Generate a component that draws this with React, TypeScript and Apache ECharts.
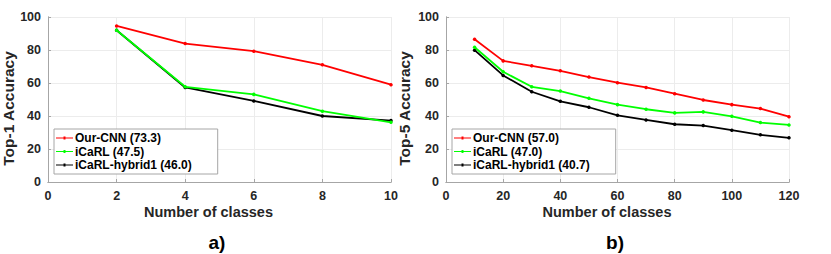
import React, { useEffect, useRef } from "react";
import * as echarts from "echarts";

const xA = [2, 4, 6, 8, 10];
const ourCnnA = [94.6, 83.9, 79.3, 71.0, 59.0];
const icarlA = [92.0, 57.7, 53.1, 42.9, 36.2];
const hybridA = [92.0, 57.3, 49.1, 40.0, 37.2];

const xB = [10, 20, 30, 40, 50, 60, 70, 80, 90, 100, 110, 120];
const ourCnnB = [86.5, 73.4, 70.4, 67.4, 63.6, 60.2, 57.3, 53.5, 49.7, 46.9, 44.5, 39.6];
const icarlB = [81.7, 66.8, 57.7, 55.1, 50.7, 46.9, 44.1, 41.9, 42.5, 39.8, 36.0, 34.6];
const hybridB = [79.9, 64.6, 54.7, 48.9, 45.3, 40.4, 37.6, 35.0, 34.2, 31.4, 28.6, 26.8];

const namesA = ["Our-CNN (73.3)", "iCaRL (47.5)", "iCaRL-hybrid1 (46.0)"];
const namesB = ["Our-CNN (57.0)", "iCaRL (47.0)", "iCaRL-hybrid1 (40.7)"];
const colors = ["#ff0000", "#00ff00", "#000000"];

const FONT = "Liberation Sans";
const TXT = "#262626";

const zip = (xs: number[], ys: number[]) => xs.map((x, i) => [x, ys[i]]);

export default function App() {
  const ref = useRef<HTMLDivElement>(null);
  useEffect(() => {
    document.body.style.margin = "0";
    const chart = echarts.init(ref.current!, null, { renderer: "svg" });
    const axisCommon = {
      axisLine: { show: true, onZero: false, lineStyle: { color: "#a6a6a6", width: 1 } },
      axisTick: { show: true, inside: true, length: 3, lineStyle: { color: "#a6a6a6" } },
      splitLine: { show: true, lineStyle: { color: "#ececec", width: 1 } },
      axisLabel: { color: TXT, fontFamily: FONT, fontWeight: "bold", fontSize: 12.5, margin: 7 },
    };
    const mkX = (gi: number, max: number, interval: number) => ({
      ...axisCommon,
      type: "value",
      gridIndex: gi,
      min: 0,
      max,
      interval,
    });
    const mkXTop = (gi: number, max: number, interval: number) => ({
      type: "value",
      gridIndex: gi,
      min: 0,
      max,
      interval,
      position: "top",
      axisLine: { show: true, lineStyle: { color: "#a6a6a6", width: 1 } },
      axisTick: { show: false },
      axisLabel: { show: false },
      splitLine: { show: false },
    });
    const mkY = (gi: number) => ({
      ...axisCommon,
      type: "value",
      gridIndex: gi,
      min: 0,
      max: 100,
      interval: 20,
    });
    const mkYRight = (gi: number) => ({
      type: "value",
      gridIndex: gi,
      min: 0,
      max: 100,
      interval: 20,
      position: "right",
      axisLine: { show: true, lineStyle: { color: "#a6a6a6", width: 1 } },
      axisTick: { show: false },
      axisLabel: { show: false },
      splitLine: { show: false },
    });
    const mkSeries = (names: string[], xs: number[], data: number[][], xi: number, yi: number) =>
      names.map((n, i) => ({
        type: "line",
        name: n,
        xAxisIndex: xi,
        yAxisIndex: yi,
        data: zip(xs, data[i]),
        symbol: "circle",
        symbolSize: 3.5,
        lineStyle: { color: colors[i], width: 1.8 },
        itemStyle: { color: colors[i] },
        z: 10 - i,
      }));
    const legendCommon = {
      orient: "vertical",
      top: 129,
      itemWidth: 17,
      itemHeight: 13,
      itemGap: 1.5,
      padding: [3, 26, 3, 2],
      borderColor: "#a6a6a6",
      borderWidth: 1,
      backgroundColor: "#fff",
      textStyle: { color: "#000", fontFamily: FONT, fontWeight: "bold", fontSize: 12, padding: [0, 0, 0, -3] },
      icon: "path://M0,5 L17,5 L17,6.2 L0,6.2 Z M7.5,4 L9.5,4 L9.5,7.2 L7.5,7.2 Z",
    };
    const titleFont = `bold 14.5px "${FONT}"`;
    const yTitleFont = `bold 15.5px "${FONT}"`;
    chart.setOption({
      animation: false,
      grid: [
        { left: 48, top: 17, width: 343, height: 165 },
        { left: 446, top: 17, width: 343, height: 165 },
      ],
      xAxis: [mkX(0, 10, 2), mkX(1, 120, 20), mkXTop(0, 10, 2), mkXTop(1, 120, 20)],
      yAxis: [mkY(0), mkY(1), mkYRight(0), mkYRight(1)],
      legend: [
        { ...legendCommon, left: 54, data: namesA.map((n, i) => ({ name: n, itemStyle: { color: colors[i] } })) },
        { ...legendCommon, left: 452, data: namesB.map((n, i) => ({ name: n, itemStyle: { color: colors[i] } })) },
      ],
      series: [
        ...mkSeries(namesA, xA, [ourCnnA, icarlA, hybridA], 0, 0),
        ...mkSeries(namesB, xB, [ourCnnB, icarlB, hybridB], 1, 1),
      ],
      graphic: [
        {
          type: "text",
          x: 208.5,
          y: 212,
          style: { text: "Number of classes", fill: TXT, font: titleFont, align: "center", verticalAlign: "middle" },
        },
        {
          type: "text",
          x: 607,
          y: 212,
          style: { text: "Number of classes", fill: TXT, font: titleFont, align: "center", verticalAlign: "middle" },
        },
        {
          type: "text",
          x: 8,
          y: 108.5,
          rotation: Math.PI / 2,
          style: { text: "Top-1 Accuracy", fill: TXT, font: yTitleFont, align: "center", verticalAlign: "middle" },
        },
        {
          type: "text",
          x: 404,
          y: 108.5,
          rotation: Math.PI / 2,
          style: { text: "Top-5 Accuracy", fill: TXT, font: yTitleFont, align: "center", verticalAlign: "middle" },
        },
        {
          type: "text",
          x: 217,
          y: 242,
          style: { text: "a)", fill: "#000", font: `bold 19px "${FONT}"`, align: "center", verticalAlign: "middle" },
        },
        {
          type: "text",
          x: 615,
          y: 242,
          style: { text: "b)", fill: "#000", font: `bold 19px "${FONT}"`, align: "center", verticalAlign: "middle" },
        },
      ],
    });
    return () => chart.dispose();
  }, []);
  return <div ref={ref} style={{ width: 831, height: 254 }} />;
}
